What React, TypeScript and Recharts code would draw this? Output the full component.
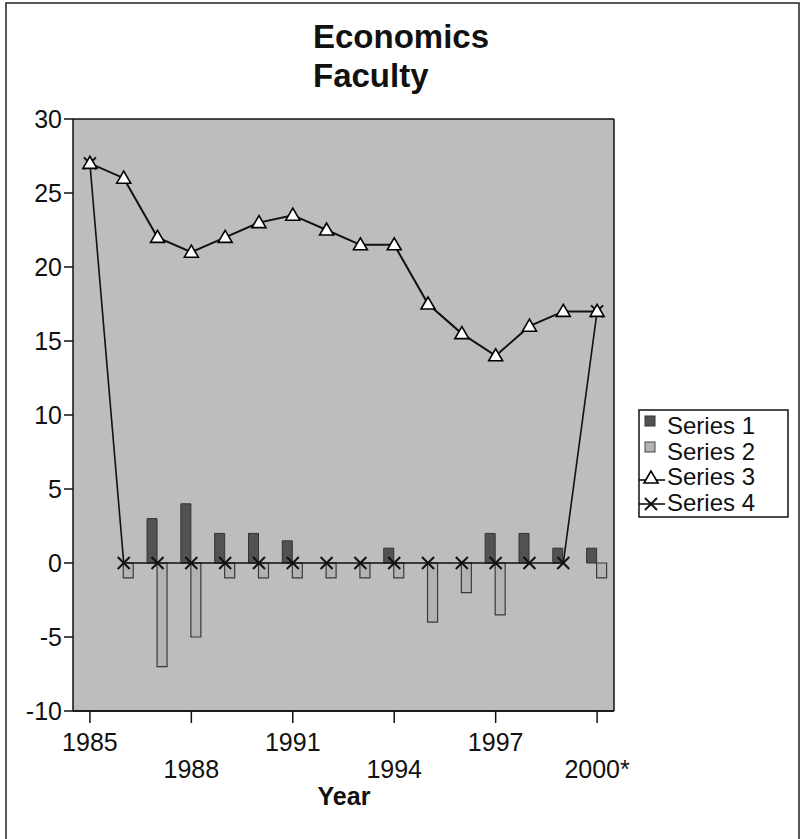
import React from "react"
import {
  ComposedChart,
  Bar,
  Line,
  XAxis,
  YAxis,
  CartesianGrid
} from "recharts"

const years = [
  "1985", "1986", "1987", "1988", "1989", "1990", "1991", "1992",
  "1993", "1994", "1995", "1996", "1997", "1998", "1999", "2000*"
]
const series1 = [0, 0, 3, 4, 2, 2, 1.5, 0, 0, 1, 0, 0, 2, 2, 1, 1]
const series2 = [0, -1, -7, -5, -1, -1, -1, -1, -1, -1, -4, -2, -3.5, 0, 0, -1]
const series3 = [27, 26, 22, 21, 22, 23, 23.5, 22.5, 21.5, 21.5, 17.5, 15.5, 14, 16, 17, 17]
const series4 = [27, 0, 0, 0, 0, 0, 0, 0, 0, 0, 0, 0, 0, 0, 0, 17]
const yTicks = [-10, -5, 0, 5, 10, 15, 20, 25, 30]
const legendLabels = ["Series 1", "Series 2", "Series 3", "Series 4"]

const data = years.map((year, i) => ({
  year,
  s1: series1[i],
  s2: series2[i],
  s3: series3[i],
  s4: series4[i]
}))

const FONT = "'Liberation Sans', Arial, sans-serif"
const DARK = "#525252"
const LIGHT = "#b3b3b3"

const triangleDot = (props: any) => {
  const { cx, cy, index } = props
  if (cx == null || cy == null) return null
  return (
    <polygon
      key={"t" + index}
      points={`${cx},${cy - 7} ${cx - 7},${cy + 5} ${cx + 7},${cy + 5}`}
      fill="#fff"
      stroke="#000"
      strokeWidth={1.6}
    />
  )
}

const crossDot = (props: any) => {
  const { cx, cy, index } = props
  if (cx == null || cy == null) return null
  return (
    <g key={"x" + index} stroke="#111" strokeWidth={2}>
      <line x1={cx - 6} y1={cy - 6} x2={cx + 6} y2={cy + 6} />
      <line x1={cx - 6} y1={cy + 6} x2={cx + 6} y2={cy - 6} />
    </g>
  )
}

// staggered year labels: 1985, 1991, 1997 on the first row, the rest below
const YearTick = (props: any) => {
  const { x, y, payload } = props
  const idx = years.indexOf(payload.value)
  const row = Math.round(idx / 3) % 2
  return (
    <text
      x={x}
      y={y + (row ? 53 : 26)}
      textAnchor="middle"
      fontSize={25}
      fontFamily={FONT}
      fill="#111"
    >
      {payload.value}
    </text>
  )
}

// legend drawn by hand, sits to the right of the plot
const LegendBox = () => (
  <g transform="translate(638,409)">
    <rect x={1} y={1} width={149} height={107} fill="#fff" stroke="#111" strokeWidth={1.5} />
    <rect x={7} y={7} width={10} height={10} fill={DARK} stroke="#333" />
    <rect x={7} y={33} width={10} height={10} fill={LIGHT} stroke="#444" />
    <line x1={1} y1={71} x2={27} y2={71} stroke="#000" strokeWidth={1.5} />
    <polygon points="13,62 6,74 20,74" fill="#fff" stroke="#000" strokeWidth={1.6} />
    <line x1={1} y1={95} x2={27} y2={95} stroke="#000" strokeWidth={1.5} />
    <g stroke="#111" strokeWidth={2}>
      <line x1={7} y1={89} x2={19} y2={101} />
      <line x1={7} y1={101} x2={19} y2={89} />
    </g>
    {legendLabels.map((l, i) => (
      <text key={l} x={29} y={25 + i * 25.7} fontSize={24} fontFamily={FONT} fill="#111">
        {l}
      </text>
    ))}
  </g>
)

export default function App() {
  return (
    <div
      style={{
        position: "absolute",
        left: 0,
        top: 0,
        width: 804,
        height: 839,
        background: "#fff",
        overflow: "hidden"
      }}
    >
      <ComposedChart
        width={804}
        height={839}
        data={data}
        margin={{ top: 119, right: 189, bottom: 38, left: 0 }}
        barCategoryGap="19%"
        barGap={0}
      >
        <CartesianGrid
          horizontal
          vertical={false}
          fill="#bdbdbd"
          fillOpacity={1}
          stroke="#111"
          strokeWidth={1.5}
        />
        <XAxis
          dataKey="year"
          interval={2}
          height={90}
          tickSize={12}
          tick={<YearTick />}
          axisLine={{ stroke: "#111", strokeWidth: 1.5 }}
          tickLine={{ stroke: "#111", strokeWidth: 1.5 }}
        />
        <YAxis
          yAxisId="left"
          width={73}
          domain={[-10, 30]}
          ticks={yTicks}
          interval={0}
          tickSize={9}
          tickMargin={2}
          tick={{ fontSize: 25, fontFamily: FONT, fill: "#111" }}
          axisLine={{ stroke: "#111", strokeWidth: 1.5 }}
          tickLine={{ stroke: "#111", strokeWidth: 1.5 }}
        />
        <YAxis
          yAxisId="right"
          orientation="right"
          width={1}
          domain={[-10, 30]}
          tick={false}
          tickLine={false}
          axisLine={{ stroke: "#111", strokeWidth: 1.5 }}
        />
        <Bar yAxisId="left" dataKey="s1" name="Series 1" fill={DARK} stroke="#333" strokeWidth={1} isAnimationActive={false} />
        <Bar yAxisId="left" dataKey="s2" name="Series 2" fill={LIGHT} stroke="#3a3a3a" strokeWidth={1.2} isAnimationActive={false} />
        <Line
          yAxisId="left"
          dataKey="s4"
          name="Series 4"
          type="linear"
          stroke="#111"
          strokeWidth={1.6}
          dot={crossDot}
          activeDot={false}
          isAnimationActive={false}
        />
        <Line
          yAxisId="left"
          dataKey="s3"
          name="Series 3"
          type="linear"
          stroke="#111"
          strokeWidth={2}
          dot={triangleDot}
          activeDot={false}
          isAnimationActive={false}
        />
      </ComposedChart>
      <svg
        width={804}
        height={839}
        style={{ position: "absolute", left: 0, top: 0, pointerEvents: "none" }}
      >
        <path d="M6,900 L6,3 L799,3 L799,900" fill="none" stroke="#222" strokeWidth={1.5} />
        <text x={313} y={48} fontSize={33} fontWeight="bold" fontFamily={FONT} fill="#111">
          Economics
        </text>
        <text x={313} y={87} fontSize={33} fontWeight="bold" fontFamily={FONT} fill="#111">
          Faculty
        </text>
        <text x={344} y={805} textAnchor="middle" fontSize={25} fontWeight="bold" fontFamily={FONT} fill="#111">
          Year
        </text>
        <LegendBox />
      </svg>
    </div>
  )
}
